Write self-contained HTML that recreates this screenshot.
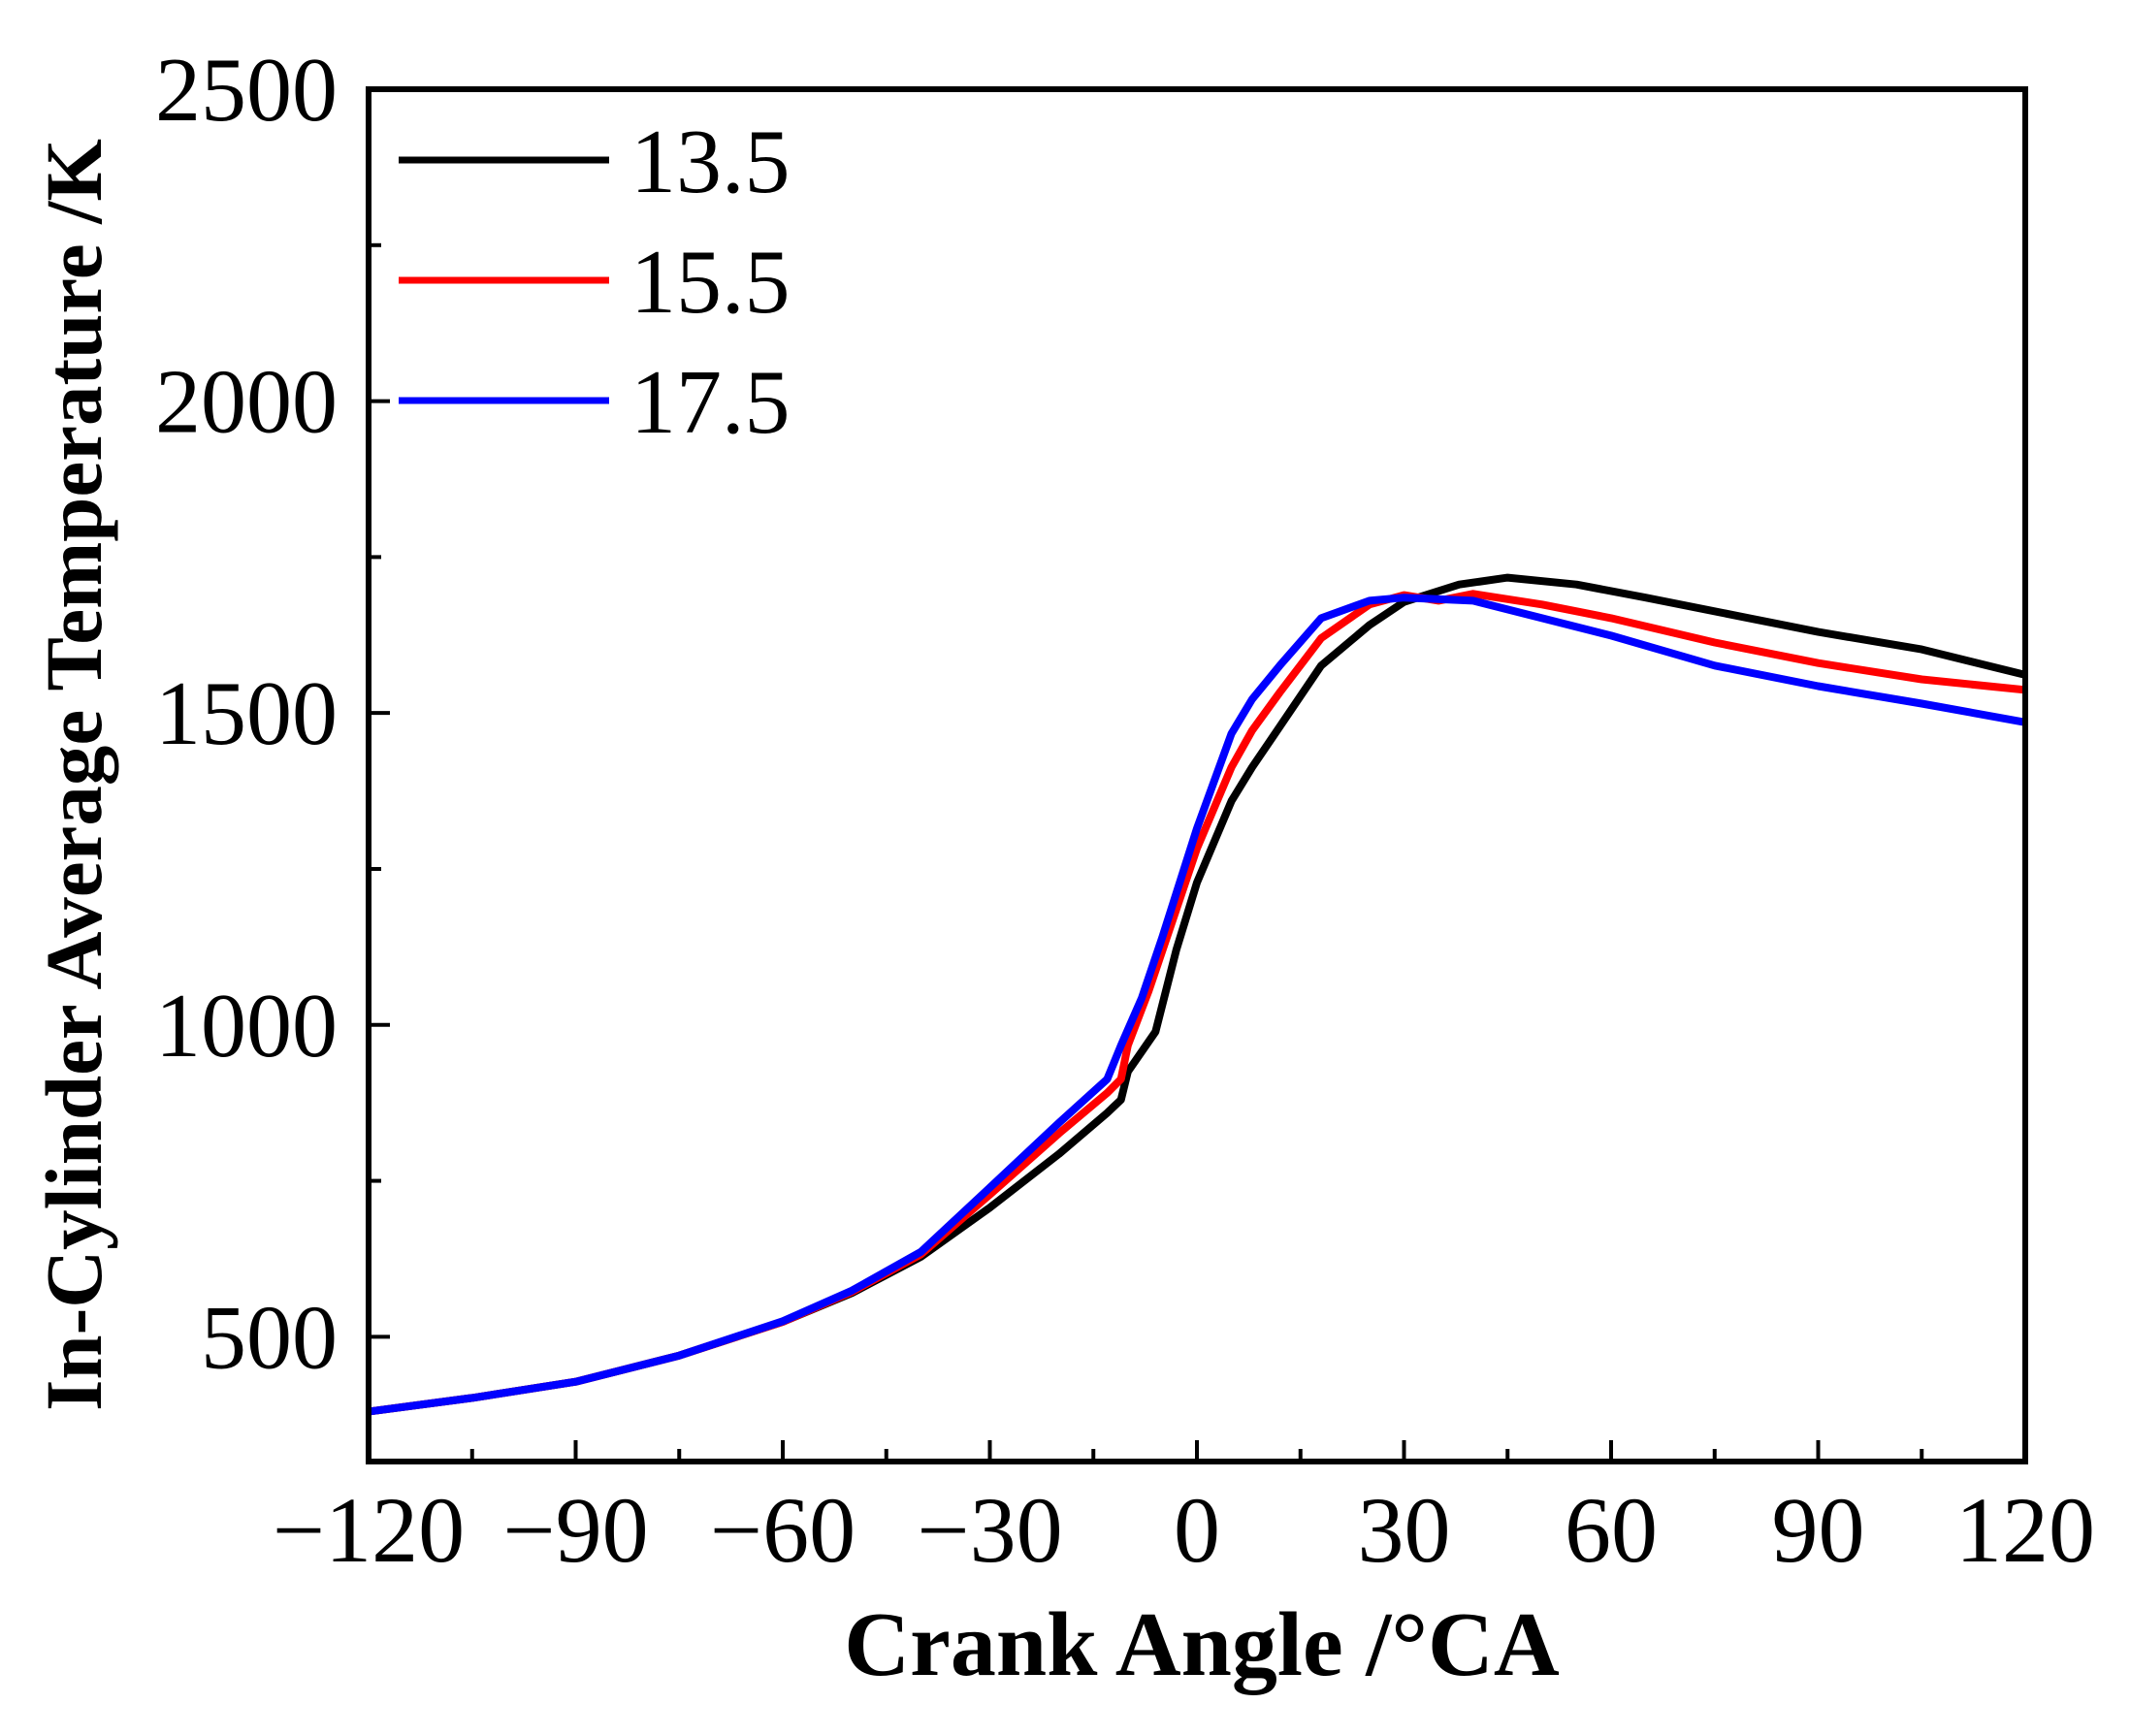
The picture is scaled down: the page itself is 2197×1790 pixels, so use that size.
<!DOCTYPE html>
<html><head><meta charset="utf-8"><style>
body{margin:0;background:#fff}
svg{display:block}
text{font-family:"Liberation Serif",serif}
</style></head><body>
<svg id="chart" width="2197" height="1790" viewBox="0 0 2197 1790" xmlns="http://www.w3.org/2000/svg"></svg>
<script>
const xTicks=[-120,-90,-60,-30,0,30,60,90,120];
const yTicks=[500,1000,1500,2000,2500];
const seriesNames=["13.5","15.5","17.5"];
const seriesColors=["#000000","#ff0000","#0000ff"];
const angles13=[-120,-105,-90,-75,-60,-50,-40,-30,-20,-13,-11,-10,-6,-3,0,5,8,12,18,25,30,38,45,55,65,80,90,105,120];
const temps13=[380,402,428,470,524,570,628,707,793,859,880,925,989,1120,1228,1359,1413,1478,1576,1641,1678,1706,1717,1706,1685,1652,1630,1602,1561];
const angles15=[-120,-105,-90,-75,-60,-50,-40,-30,-20,-13,-11,-10,-7,-3,0,5,8,12,18,25,30,35,40,50,60,75,90,105,120];
const temps15=[380,402,428,470,524,572,632,728,826,891,913,967,1054,1185,1283,1413,1472,1533,1620,1674,1689,1680,1691,1674,1652,1613,1580,1554,1537];
const angles17=[-120,-105,-90,-75,-60,-50,-40,-30,-20,-13,-11,-8,-5,0,5,8,12,18,25,30,40,50,60,75,90,105,120];
const temps17=[380,402,428,470,525,574,636,739,843,913,967,1043,1141,1315,1467,1522,1576,1652,1680,1685,1680,1652,1624,1576,1543,1515,1485];
const seriesX=[angles13,angles15,angles17];
const seriesY=[temps13,temps15,temps17];

const L=380,R=2088,T=92,B=1507;
const xMin=-120,xMax=120,yMin=300,yMax=2500;
const sx=v=>L+(v-xMin)/(xMax-xMin)*(R-L);
const sy=v=>B-(v-yMin)/(yMax-yMin)*(B-T);
const svg=document.getElementById('chart');
const NS="http://www.w3.org/2000/svg";
function mk(tag,attrs){const e=document.createElementNS(NS,tag);for(const k in attrs)e.setAttribute(k,attrs[k]);svg.appendChild(e);return e;}

for(let s=0;s<3;s++){
  const d=seriesX[s].map((x,i)=>(i?'L':'M')+sx(x).toFixed(1)+','+sy(seriesY[s][i]).toFixed(1)).join(' ');
  const p=mk('path',{d:d,fill:'none',stroke:seriesColors[s],'stroke-width':8,'stroke-linejoin':'round'});
  
  
}
const fr=mk('rect',{x:L,y:T,width:R-L,height:B-T,fill:'none',stroke:'#000','stroke-width':6});


for(let v=xMin;v<=xMax;v+=15){
  const major=(v%30===0);
  const t=mk('line',{x1:sx(v),x2:sx(v),y1:B,y2:B-(major?22:13),stroke:'#000','stroke-width':4});
  
  
}
xTicks.forEach(v=>{
  const t=mk('text',{x:sx(v),y:1610,'font-size':96,'text-anchor':'middle'});
  t.textContent=v<0?'\u2212'+Math.abs(v):String(v);
  
  
});
for(let v=500;v<=yMax;v+=250){
  const major=(v%500===0);
  const t=mk('line',{x1:L,x2:L+(major?22:13),y1:sy(v),y2:sy(v),stroke:'#000','stroke-width':4});
  
  
}
yTicks.forEach(v=>{
  const t=mk('text',{x:348,y:sy(v)+32,'font-size':94,'text-anchor':'end'});
  t.textContent=String(v);
  
  
});
const xt=mk('text',{x:1239,y:1727,'font-size':94,'font-weight':'bold','text-anchor':'middle'});
xt.textContent='Crank Angle /°CA';


const yt=mk('text',{x:0,y:0,'font-size':83,'font-weight':'bold','text-anchor':'middle',transform:'translate(104,799) rotate(-90)'});
yt.textContent='In-Cylinder Average Temperature /K';


const ly=[165,289,413];
for(let s=0;s<3;s++){
  const l=mk('line',{x1:411,x2:628,y1:ly[s],y2:ly[s],stroke:seriesColors[s],'stroke-width':7});
  
  
  const t=mk('text',{x:650,y:ly[s]+33,'font-size':94});
  t.textContent=seriesNames[s];
  
  
}
</script>
</body></html>
